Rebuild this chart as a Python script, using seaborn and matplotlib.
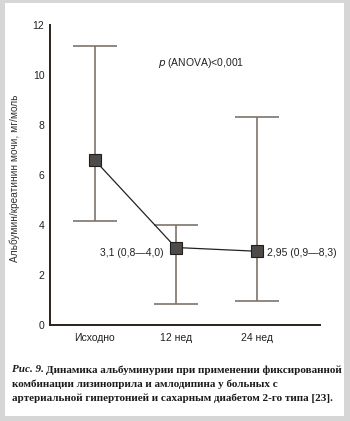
import matplotlib
matplotlib.use("Agg")
import matplotlib.pyplot as plt
import seaborn as sns
import pandas as pd
import numpy as np

categories = ["Исходно", "12 нед", "24 нед"]
median = [6.6, 3.1, 2.95]
low = [4.15, 0.85, 0.95]
high = [11.15, 4.0, 8.3]
yticks = [0, 2, 4, 6, 8, 10, 12]
labels_12 = "3,1 (0,8—4,0)"
labels_24 = "2,95 (0,9—8,3)"

sns.set_style("white")
plt.rcParams['font.family'] = ['Liberation Sans', 'DejaVu Sans']

W, H = 350, 421
fig = plt.figure(figsize=(W / 100, H / 100), dpi=100)
fig.patch.set_facecolor("#d6d6d6")
bg = fig.add_axes([5 / W, 1 - 416 / H, (344 - 5) / W, (416 - 3) / H])
bg.set_facecolor("white")
bg.set_xticks([]); bg.set_yticks([])
for s in bg.spines.values():
    s.set_visible(False)
bg.set_zorder(0)

ax = fig.add_axes([50 / W, 1 - 325 / H, (320 - 50) / W, (325 - 25) / H])
ax.set_zorder(1)
ax.patch.set_alpha(0)

df = pd.DataFrame({"x": np.arange(len(categories)), "median": median,
                   "low": low, "high": high})

err = [df["median"] - df["low"], df["high"] - df["median"]]
ax.errorbar(df["x"], df["median"], yerr=err, fmt="none", ecolor="#7d746c",
            elinewidth=1.2, capsize=15.8, capthick=1.2, zorder=2)

sns.lineplot(data=df, x="x", y="median", ax=ax, color="#222222", linewidth=0.9,
             marker="s", markersize=8.6, markerfacecolor="#4f4b48",
             markeredgecolor="#1e1e1e", markeredgewidth=0.8, zorder=3)

ax.set_xlim(-0.55, 2.78)
ax.set_ylim(0, 12)
ax.set_xticks(df["x"])
ax.set_xticklabels(categories)
ax.set_xticks([2.7], minor=True)
ax.set_yticks(yticks)
ax.set_yticklabels([str(v) for v in yticks])

for s in ["top", "right"]:
    ax.spines[s].set_visible(False)
for s in ["left", "bottom"]:
    ax.spines[s].set_color("#2a2218")
    ax.spines[s].set_linewidth(1.4)

ax.tick_params(axis="both", which="both", direction="in", length=4, width=1.0,
               color="#2a2218", labelsize=7.5, labelcolor="#222222")
ax.tick_params(axis="x", which="major", pad=6)
ax.tick_params(axis="y", pad=4)

ax.set_xlabel("")
ax.set_ylabel("Альбумин/креатинин мочи, мг/моль", fontsize=7.3, color="#333333")
ax.yaxis.set_label_coords(-0.111, 0.49)

ax.text(0.78, 10.5, "$\\it{p}$ (ANOVA)<0,001", fontsize=7.5, color="#222222",
        ha="left", va="center")
ax.text(0.85, 2.9, labels_12, fontsize=7.5, color="#222222", ha="right", va="center")
ax.text(2.13, 2.9, labels_24, fontsize=7.5, color="#222222", ha="left", va="center")

# caption: fit first line to reference width (x 12..340 px)
lead = "Рис. 9."
lines = ["Динамика альбуминурии при применении фиксированной",
         "комбинации лизиноприла и амлодипина у больных с",
         "артериальной гипертонией и сахарным диабетом 2-го типа [23]."]
ys = [370, 384, 398]
r = fig.canvas.get_renderer()
fs0 = 9.0
t1 = fig.text(0, 0, lead + " ", fontsize=fs0, family="Liberation Serif",
              fontweight="bold", fontstyle="italic")
t2 = fig.text(0, 0, lines[0], fontsize=fs0, family="Liberation Serif", fontweight="bold")
wtot = t1.get_window_extent(r).width + t2.get_window_extent(r).width
t1.remove(); t2.remove()
fs = fs0 * 328 / wtot

for i, (txt, y) in enumerate(zip(lines, ys)):
    yf = 1 - y / H
    x0 = 12
    if i == 0:
        t = fig.text(x0 / W, yf, lead, fontsize=fs, family="Liberation Serif",
                     fontweight="bold", fontstyle="italic", ha="left", va="center",
                     color="#1a1a1a")
        x0 = t.get_window_extent(r).x1 + fs * 0.3
    fig.text(x0 / W, yf, txt, fontsize=fs, family="Liberation Serif",
             fontweight="bold", ha="left", va="center", color="#1a1a1a")

fig.savefig("out.png", dpi=100, facecolor=fig.get_facecolor())
